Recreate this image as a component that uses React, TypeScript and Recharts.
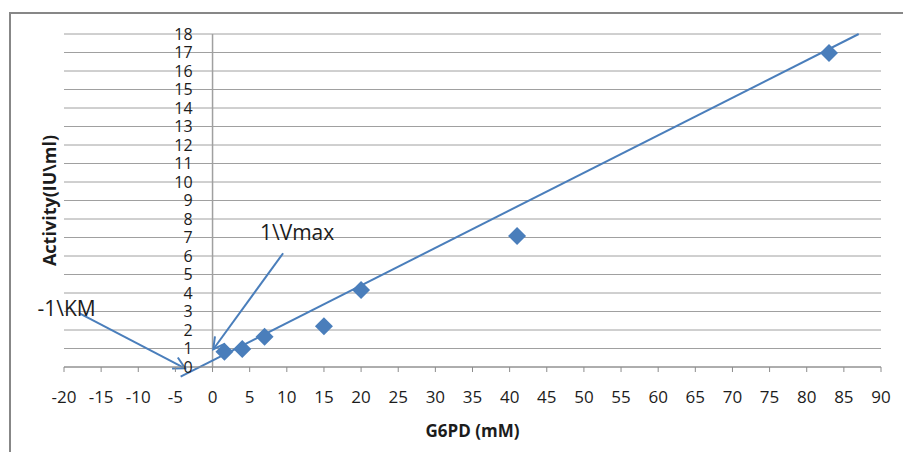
import { ScatterChart, Scatter, XAxis, YAxis, CartesianGrid, ReferenceLine } from "recharts";

// G6PD concentration (mM) vs activity (IU\ml)
const G6PD = [1.6, 4, 7, 15, 20, 41, 83];
const ACTIVITY = [0.83, 0.97, 1.63, 2.2, 4.16, 7.08, 16.97];

// trendline ends
const TREND_X = [-4.3, 87];
const TREND_Y = [-0.52, 18];

// annotation arrows (start -> tip)
const KM_X = [-17.9, -3.7];
const KM_Y = [2.9, -0.07];
const VMAX_X = [9.5, 0.1];
const VMAX_Y = [6.15, 0.96];

const X_TICKS = [-20, -15, -10, -5, 0, 5, 10, 15, 20, 25, 30, 35, 40, 45, 50, 55, 60, 65, 70, 75, 80, 85, 90];
const Y_TICKS = [0, 1, 2, 3, 4, 5, 6, 7, 8, 9, 10, 11, 12, 13, 14, 15, 16, 17, 18];

const X_MIN = -20;
const X_MAX = 90;
const Y_MIN = 0;
const Y_MAX = 18;

const W = 903;
const H = 452;
const Y_AXIS_W = 1;
const M = { top: 34, right: 22, left: 63, bottom: 0 };
const X_AXIS_H = 85;
const BLUE = "#4a7ebb";
const GRID = "#a0a0a0";
const TEXT = "#1c1c1c";
const FONT = "'Open Sans', sans-serif";

const points = G6PD.map((x, i) => ({ x, y: ACTIVITY[i] }));
const trend = TREND_X.map((x, i) => ({ x, y: TREND_Y[i] }));
const kmArrow = KM_X.map((x, i) => ({ x, y: KM_Y[i] }));
const vmaxArrow = VMAX_X.map((x, i) => ({ x, y: VMAX_Y[i] }));

const plotLeft = M.left + Y_AXIS_W;
const plotW = W - plotLeft - M.right;
const plotH = H - M.top - X_AXIS_H;
const zeroX = plotLeft + ((0 - X_MIN) / (X_MAX - X_MIN)) * plotW;

function Diamond(props: any) {
  const { cx, cy } = props;
  const r = 9;
  return <polygon points={`${cx},${cy - r} ${cx + r},${cy} ${cx},${cy + r} ${cx - r},${cy}`} fill={BLUE} />;
}

function YTick(props: any) {
  const { y, payload } = props;
  return (
    <text x={zeroX - 20} y={y} dy="0.36em" textAnchor="end" fontSize={16} fill={TEXT}>
      {payload.value}
    </text>
  );
}

function YTitle() {
  const x = plotLeft - 14;
  const y = M.top + plotH / 2;
  return (
    <text x={x} y={y} transform={`rotate(-90, ${x}, ${y})`} textAnchor="middle" dy="0.36em" fontSize={18} fontWeight="bold" fill={TEXT}>
      Activity(IU\ml)
    </text>
  );
}

// line with open arrow head at the tip and its text near the start
function arrowShape(label: string, tdx: number, tdy: number) {
  return (p: any) => {
    const { x1, y1, x2, y2 } = p;
    const a = Math.atan2(y1 - y2, x1 - x2);
    const len = 13;
    const s = 0.5;
    const ax = x2 + len * Math.cos(a - s);
    const ay = y2 + len * Math.sin(a - s);
    const bx = x2 + len * Math.cos(a + s);
    const by = y2 + len * Math.sin(a + s);
    return (
      <g>
        <line x1={x1} y1={y1} x2={x2} y2={y2} stroke={BLUE} strokeWidth={2} />
        <path d={`M${ax},${ay} L${x2},${y2} L${bx},${by}`} stroke={BLUE} strokeWidth={2} fill="none" />
        <text x={x1 + tdx} y={y1 + tdy} textAnchor="middle" fontSize={21} fill={TEXT}>
          {label}
        </text>
      </g>
    );
  };
}

export default function App() {
  return (
    <div style={{ position: "relative", width: W, height: H, overflow: "hidden", fontFamily: FONT, background: "#fff" }}>
      <style>{"body{margin:0;overflow:hidden}"}</style>
      <div
        style={{
          position: "absolute",
          left: 9,
          top: 12,
          width: 920,
          height: 460,
          borderLeft: "2px solid #878787",
          borderTop: "2px solid #878787",
        }}
      />
      <ScatterChart width={W} height={H} margin={M} style={{ position: "absolute", left: 0, top: 0 }}>
        <CartesianGrid vertical={false} stroke={GRID} />
        <XAxis
          dataKey="x"
          type="number"
          domain={[X_MIN, X_MAX]}
          ticks={X_TICKS}
          interval={0}
          allowDataOverflow
          height={X_AXIS_H}
          tickSize={5}
          tickMargin={19}
          stroke="#8c8c8c"
          tick={{ fill: TEXT, fontSize: 17 }}
          label={{ value: "G6PD (mM)", position: "insideBottom", offset: 15, fill: TEXT, fontSize: 17, fontWeight: "bold" }}
        />
        <YAxis
          dataKey="y"
          type="number"
          domain={[Y_MIN, Y_MAX]}
          ticks={Y_TICKS}
          interval={0}
          allowDataOverflow
          width={Y_AXIS_W}
          axisLine={false}
          tickLine={false}
          tick={(p: any) => <YTick {...p} />}
          label={{ content: () => <YTitle /> }}
        />
        <ReferenceLine x={0} stroke={GRID} strokeWidth={1.5} />
        <ReferenceLine segment={trend} stroke={BLUE} strokeWidth={2} ifOverflow="visible" />
        <ReferenceLine segment={kmArrow} ifOverflow="visible" shape={arrowShape("-1\\KM", -13, 3)} />
        <ReferenceLine segment={vmaxArrow} ifOverflow="visible" shape={arrowShape("1\\Vmax", 14, -13)} />
        <Scatter data={points} shape={Diamond} isAnimationActive={false} />
      </ScatterChart>
    </div>
  );
}
